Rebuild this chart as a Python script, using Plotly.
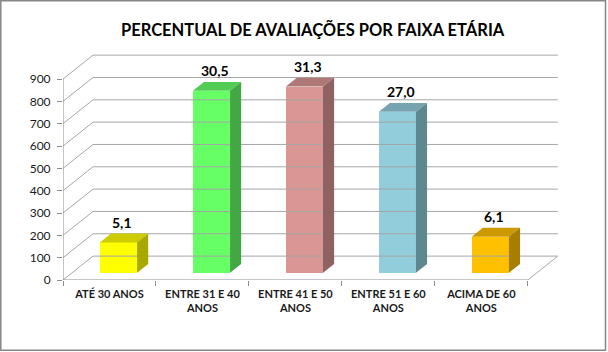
import plotly.graph_objects as go

# ---- data ----
categories = ["ATÉ 30 ANOS", "ENTRE 31 E 40<br>ANOS", "ENTRE 41 E 50<br>ANOS",
              "ENTRE 51 E 60<br>ANOS", "ACIMA DE 60<br>ANOS"]
values = [136, 815, 834, 721, 162]
percents = [5.1, 30.5, 31.3, 27.0, 6.1]
front_colors = ["#FFFF00", "#66FF66", "#D99694", "#92CDDC", "#FFC000"]
top_colors = ["#CCCC00", "#52CC52", "#AE7877", "#75A4B0", "#CC9A00"]
side_colors = ["#A8A800", "#43A843", "#8E6261", "#5F8790", "#A87E00"]
y_ticks = [0, 100, 200, 300, 400, 500, 600, 700, 800, 900]
title = "PERCENTUAL DE AVALIAÇÕES POR FAIXA ETÁRIA"

# ---- 3D geometry (in data units) ----
D = 0.323      # depth offset along x (categories)
DY = 107       # depth offset along y (value units)
F = 0.30       # bar front plane as fraction of depth
BD = 0.37      # bar depth as fraction of depth
BW = 0.40      # bar width
n = len(categories)
x_left, x_right = -0.5, n - 0.5

fig = go.Figure()

grid_col = "#A6A6A6"
axis_col = "#8C8C8C"

# back wall horizontal gridlines + side wall diagonals
gx, gy = [], []
for v in y_ticks:
    gx += [x_left + D, x_right + D, None]
    gy += [v + DY, v + DY, None]
    gx += [x_left, x_left + D, None]
    gy += [v, v + DY, None]
# floor right diagonal
gx += [x_right, x_right + D, None]
gy += [0, DY, None]
fig.add_trace(go.Scatter(x=gx, y=gy, mode="lines", line=dict(color=grid_col, width=1),
                         hoverinfo="skip", showlegend=False, cliponaxis=False))

# front axis lines
fig.add_trace(go.Scatter(x=[x_left, x_left, None, x_left, x_right],
                         y=[y_ticks[-1], 0, None, 0, 0], mode="lines",
                         line=dict(color=axis_col, width=1),
                         hoverinfo="skip", showlegend=False, cliponaxis=False))

bx = [i + F * D for i in range(n)]
base = F * DY
bdx = BD * D
bdy = BD * DY

# front faces
fig.add_trace(go.Bar(x=bx, y=values, base=[base] * n, width=BW,
                     marker=dict(color=front_colors, line=dict(width=0)),
                     hoverinfo="skip", showlegend=False))

# top and side faces
for i in range(n):
    x0 = bx[i] - BW / 2
    x1 = bx[i] + BW / 2
    yt = base + values[i]
    fig.add_trace(go.Scatter(
        x=[x0, x1, x1 + bdx, x0 + bdx, x0],
        y=[yt, yt, yt + bdy, yt + bdy, yt],
        mode="lines", fill="toself", fillcolor=top_colors[i],
        line=dict(width=0, color=top_colors[i]), hoverinfo="skip", showlegend=False))
    fig.add_trace(go.Scatter(
        x=[x1, x1 + bdx, x1 + bdx, x1, x1],
        y=[base, base + bdy, yt + bdy, yt, base],
        mode="lines", fill="toself", fillcolor=side_colors[i],
        line=dict(width=0, color=side_colors[i]), hoverinfo="skip", showlegend=False))

# data labels
for i in range(n):
    fig.add_annotation(x=bx[i] + bdx / 2 - 0.02, y=base + values[i] + bdy,
                       text="<b>" + f"{percents[i]:.1f}".replace(".", ",") + "</b>",
                       showarrow=False, yanchor="bottom", yshift=1,
                       font=dict(family="Lato", size=14, color="#000000"))

# title
fig.add_annotation(xref="paper", yref="paper", x=(313 - 63) / 502, y=(352 - 72 - 29) / 230,
                   text="<b>" + title + "</b>", showarrow=False,
                   xanchor="center", yanchor="middle",
                   font=dict(family="Lato", size=16.5, color="#000000"))

# outer border
fig.add_shape(type="rect", xref="paper", yref="paper",
              x0=(0.8 - 63) / 502, x1=(605.5 - 63) / 502,
              y0=(352 - 72 - 350.3) / 230, y1=(352 - 72 - 0.8) / 230,
              line=dict(color="#868686", width=1.5), fillcolor="rgba(0,0,0,0)", layer="below")

fig.update_layout(
    width=608, height=352,
    margin=dict(l=63, r=43, t=50, b=72),
    paper_bgcolor="white", plot_bgcolor="white",
    bargap=0,
    xaxis=dict(range=[-0.5, 4.9], tickvals=list(range(n)),
               ticktext=["<b>" + c + "</b>" for c in categories],
               showgrid=False, zeroline=False, showline=False, ticks="",
               ticklabelstandoff=6,
               tickfont=dict(family="Lato", size=11, color="#1A1A1A"),
               minor=dict(tick0=-0.5, dtick=1, ticks="outside", ticklen=5,
                          tickcolor=axis_col, showgrid=False),
               fixedrange=True),
    yaxis=dict(range=[0, 1030], tickvals=y_ticks, showgrid=False, zeroline=False,
               showline=False, ticks="outside", ticklen=5, tickcolor=axis_col,
               ticklabelstandoff=4,
               tickfont=dict(family="Lato", size=12, color="#1A1A1A"),
               fixedrange=True),
)

fig.write_html("out.html")
